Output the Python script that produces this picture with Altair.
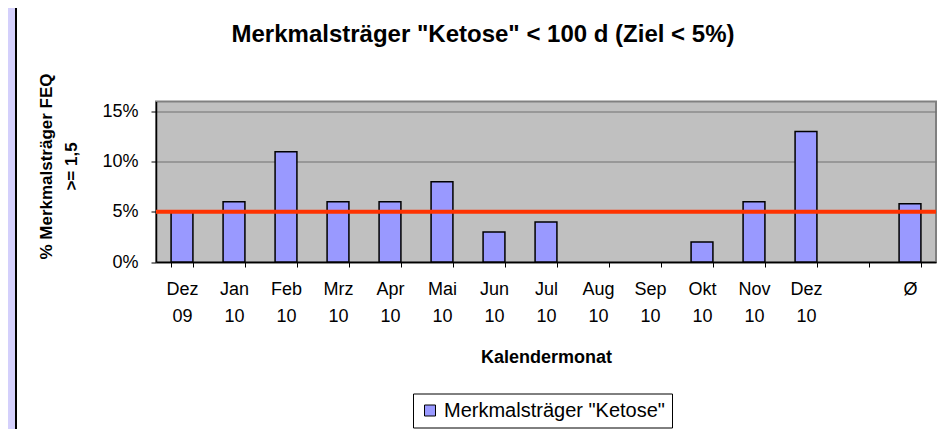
import altair as alt
import pandas as pd

# ---- data ----
months = ["Dez 09", "Jan 10", "Feb 10", "Mrz 10", "Apr 10", "Mai 10", "Jun 10",
          "Jul 10", "Aug 10", "Sep 10", "Okt 10", "Nov 10", "Dez 10", " ", "Ø"]
values_pct = [5, 6, 11, 6, 6, 8, 3, 4, 0, 0, 2, 6, 13, None, 5.8]
target_pct = 5
series_name = 'Merkmalsträger "Ketose"'
y_ticks_pct = [0, 5, 10, 15]

FONT = "Liberation Sans"
BAR_FILL = "#9999FF"
LAVENDER = "#D4D0FC"

df = pd.DataFrame({
    "monat": months,
    "wert": [None if v is None else v / 100 for v in values_pct],
    "serie": series_name,
})

W, H = 780, 160.5

x_enc = alt.X(
    "monat:N",
    sort=months,
    scale=alt.Scale(domain=months, paddingInner=0.58, paddingOuter=0.29),
    axis=alt.Axis(
        title="Kalendermonat",
        labelExpr="split(datum.label, ' ')",
        labelAngle=0,
        labelFont=FONT,
        labelFontSize=18,
        labelColor="black",
        labelLineHeight=27,
        labelPadding=13,
        tickBand="extent",
        tickSize=5,
        tickColor="black",
        domainColor="black",
        domainWidth=1.5,
        titleFont=FONT,
        titleFontSize=18,
        titleFontWeight="bold",
        titleColor="black",
        titlePadding=23,
        grid=False,
    ),
)

y_enc = alt.Y(
    "wert:Q",
    scale=alt.Scale(domain=[0, 0.15]),
    axis=alt.Axis(
        values=[v / 100 for v in y_ticks_pct],
        format=".0%",
        labelFont=FONT,
        labelFontSize=18,
        labelColor="black",
        labelPadding=13,
        tickSize=5,
        tickColor="black",
        domainColor="black",
        domainWidth=1.5,
        grid=True,
        gridColor="#707070",
        gridWidth=1.2,
        title=["% Merkmalsträger FEQ", ">= 1,5"],
        titleFont=FONT,
        titleFontSize=17,
        titleFontWeight="bold",
        titleColor="black",
        titleLineHeight=25,
        titleAngle=-90,
        titleAlign="center",
        titleBaseline="top",
        titleX=-118,
        titleY=64.5,
    ),
)

bars = alt.Chart(df).transform_filter("datum.wert > 0").mark_bar(
    stroke="black", strokeWidth=1.5
).encode(
    x=x_enc,
    y=y_enc,
    color=alt.Color(
        "serie:N",
        scale=alt.Scale(range=[BAR_FILL]),
        legend=alt.Legend(
            title=None,
            orient="none",
            legendX=257,
            legendY=292,
            symbolType="square",
            symbolSize=121,
            symbolStrokeColor="black",
            symbolStrokeWidth=1,
            symbolFillColor=BAR_FILL,
            labelFont=FONT,
            labelFontSize=20,
            labelColor="black",
            labelLimit=500,
            strokeColor="black",
            fillColor="white",
            padding=7,
            cornerRadius=0,
        ),
    ),
)

target_line = alt.Chart(pd.DataFrame({"ziel": [target_pct / 100]})).mark_rule(
    color="#FF3300", strokeWidth=4
).encode(y="ziel:Q")

# decorative lavender frame strip at the left of the page
frame = alt.Chart(pd.DataFrame({"a": [0]})).mark_rect(
    fill=LAVENDER, stroke="black", strokeWidth=2
).encode(
    x=alt.value(-170), x2=alt.value(-140),
    y=alt.value(-96), y2=alt.value(340),
)

chart = alt.layer(frame, bars, target_line).properties(
    width=W,
    height=H,
    autosize=alt.AutoSizeParams(type="none"),
    padding={"left": 148, "top": 93.5, "right": 6, "bottom": 167},
    background="white",
    title=alt.TitleParams(
        text='Merkmalsträger "Ketose" < 100 d (Ziel < 5%)',
        font=FONT,
        fontSize=24,
        fontWeight="bold",
        color="black",
        anchor="middle",
        dx=-63,
        baseline="alphabetic",
        offset=0,
        dy=61,
    ),
).configure_view(
    fill="#C0C0C0", stroke="#808080", strokeWidth=2
)

chart.save("out.html", embed_options={"renderer": "svg", "actions": False})
